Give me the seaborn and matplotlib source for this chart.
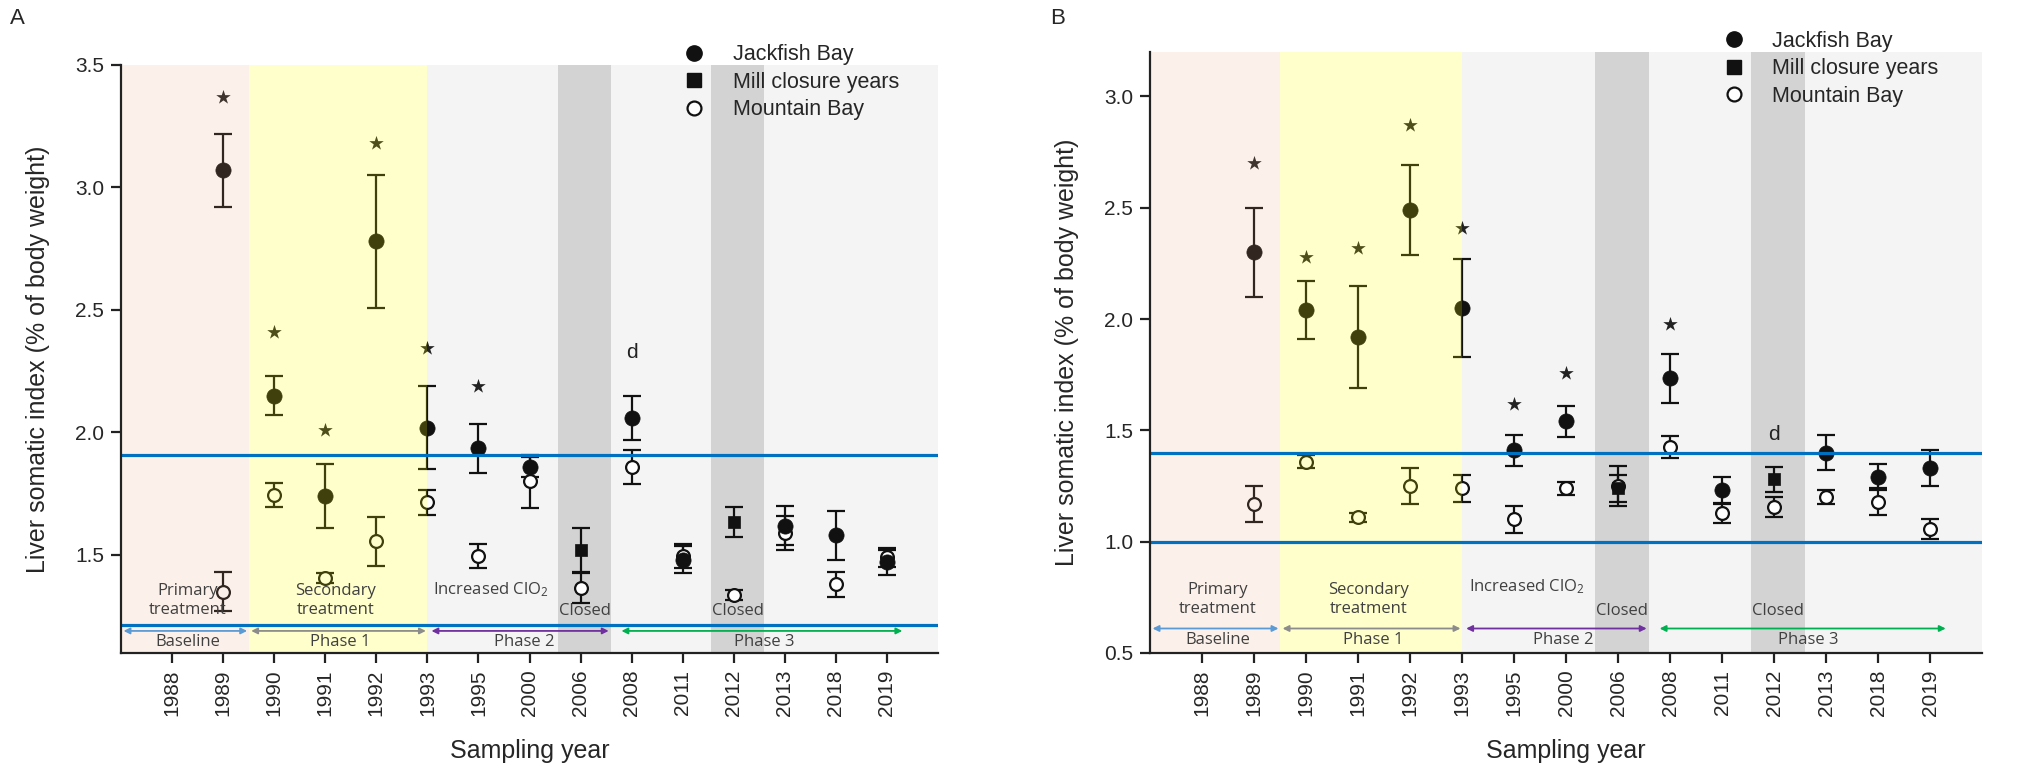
import numpy as np
import pandas as pd
import matplotlib
matplotlib.use("Agg")
import matplotlib.pyplot as plt
from matplotlib.lines import Line2D
import seaborn as sns

sns.set_style("ticks")
plt.rcParams["font.family"] = ["Liberation Sans", "DejaVu Sans"]
plt.rcParams["mathtext.default"] = "regular"

nan = np.nan
years = ["1988", "1989", "1990", "1991", "1992", "1993", "1995", "2000",
         "2006", "2008", "2011", "2012", "2013", "2018", "2019"]

# Panel A
a_jackfish = [nan, 3.07, 2.15, 1.74, 2.78, 2.02, 1.935, 1.86, nan, 2.06, 1.48, nan, 1.62, 1.58, 1.47]
a_jackfish_err = [nan, 0.15, 0.08, 0.13, 0.27, 0.17, 0.10, 0.04, nan, 0.09, 0.055, nan, 0.08, 0.10, 0.05]
a_mill = [nan, nan, nan, nan, nan, nan, nan, nan, 1.52, nan, nan, 1.635, nan, nan, nan]
a_mill_err = [nan, nan, nan, nan, nan, nan, nan, nan, 0.09, nan, nan, 0.06, nan, nan, nan]
a_mountain = [nan, 1.35, 1.745, 1.405, 1.555, 1.715, 1.495, 1.80, 1.365, 1.86, 1.495, 1.335, 1.59, 1.38, 1.49]
a_mountain_err = [nan, 0.08, 0.05, 0.02, 0.10, 0.05, 0.05, 0.11, 0.06, 0.07, 0.05, 0.02, 0.07, 0.05, 0.04]
a_star_years = ["1989", "1990", "1991", "1992", "1993", "1995"]
a_star_y = [3.37, 2.41, 2.01, 3.18, 2.345, 2.19]
a_d_year, a_d_y = "2008", 2.325
a_ref_lines = [1.91, 1.215]

# Panel B
b_jackfish = [nan, 2.30, 2.04, 1.92, 2.49, 2.05, 1.41, 1.54, nan, 1.735, 1.23, nan, 1.40, 1.29, 1.33]
b_jackfish_err = [nan, 0.20, 0.13, 0.23, 0.20, 0.22, 0.07, 0.07, nan, 0.11, 0.06, nan, 0.08, 0.06, 0.08]
b_mill = [nan, nan, nan, nan, nan, nan, nan, nan, 1.24, nan, nan, 1.28, nan, nan, nan]
b_mill_err = [nan, nan, nan, nan, nan, nan, nan, nan, 0.06, nan, nan, 0.055, nan, nan, nan]
b_mountain = [nan, 1.17, 1.36, 1.11, 1.25, 1.24, 1.10, 1.24, 1.25, 1.425, 1.13, 1.155, 1.20, 1.18, 1.055]
b_mountain_err = [nan, 0.08, 0.03, 0.02, 0.08, 0.06, 0.06, 0.03, 0.09, 0.05, 0.045, 0.045, 0.03, 0.06, 0.045]
b_star_years = ["1989", "1990", "1991", "1992", "1993", "1995", "2000", "2008"]
b_star_y = [2.70, 2.28, 2.32, 2.87, 2.41, 1.62, 1.76, 1.98]
b_d_year, b_d_y = "2012", 1.48
b_ref_lines = [1.40, 1.00]

phase_names = ["Baseline", "Phase 1", "Phase 2", "Phase 3"]
phase_colors = ["#5B9BD5", "#8C8C8C", "#7030A0", "#00B050"]
ink = "#111111"
note_font = ["Open Sans", "DejaVu Sans"]


def draw_panel(ax, jb, jb_err, mill, mill_err, mb, mb_err, star_years, star_y,
               d_year, d_y, ref_lines, ylim, yticks, note_y, arrow_y, phase_y, phase_x):
    pos = np.arange(len(years))
    df = pd.DataFrame({"pos": pos, "jb": jb, "jb_err": jb_err, "mill": mill,
                       "mill_err": mill_err, "mb": mb, "mb_err": mb_err})

    # grey periods sit behind the points
    ax.axvspan(5, 15, color="#f4f4f4", lw=0, zorder=0)
    for y in ["2006", "2012"]:
        i = years.index(y)
        ax.axvspan(i - 0.45, i + 0.6, color="#d3d3d3", lw=0, zorder=0.5)

    for col in ["mb", "jb", "mill"]:
        ax.errorbar(df["pos"], df[col], yerr=df[col + "_err"], fmt="none",
                    ecolor=ink, elinewidth=1.6, capsize=6.5, capthick=1.6, zorder=3)

    sns.scatterplot(data=df, x="pos", y="mb", ax=ax, marker="o", s=85,
                    facecolor="white", edgecolor=ink, linewidth=1.6, zorder=4, legend=False)
    sns.scatterplot(data=df, x="pos", y="jb", ax=ax, marker="o", s=120,
                    color=ink, edgecolor=ink, linewidth=0.5, zorder=4, legend=False)
    sns.scatterplot(data=df, x="pos", y="mill", ax=ax, marker="s", s=85,
                    color=ink, edgecolor=ink, linewidth=0.5, zorder=4, legend=False)

    star_pos = [years.index(y) for y in star_years]
    ax.scatter(star_pos, star_y, marker="*", s=120, color="#222222", zorder=4, linewidths=0)
    ax.text(years.index(d_year), d_y, "d", ha="center", va="center", fontsize=15,
            color="#222222", zorder=7)

    # treatment periods are tinted over the points, like the original
    ax.axvspan(-1, 1.5, color=(0.94, 0.63, 0.47), alpha=0.15, lw=0, zorder=5)
    ax.axvspan(1.5, 5, color=(1.0, 1.0, 0.0), alpha=0.2, lw=0, zorder=5)

    for v in ref_lines:
        ax.axhline(v, color="#0070C0", lw=2.3, zorder=6)

    ax.text(0.3, note_y[0], "Primary\ntreatment", ha="center", va="center", fontsize=12,
            color="#404040", family=note_font, linespacing=1.25, zorder=7)
    ax.text(3.2, note_y[0], "Secondary\ntreatment", ha="center", va="center", fontsize=12,
            color="#404040", family=note_font, linespacing=1.25, zorder=7)
    ax.text(6.25, note_y[1], "Increased ClO$_2$", ha="center", va="center", fontsize=12,
            color="#404040", family=note_font, zorder=7)
    for x in [8.08, 11.08]:
        ax.text(x, note_y[2], "Closed", ha="center", va="center", fontsize=12,
                color="#404040", family=note_font, zorder=7)

    arrow_spans = [(-0.95, 1.47), (1.55, 4.97), (5.08, 8.55), (8.8, 14.3)]
    for (x0, x1), name, c, px in zip(arrow_spans, phase_names, phase_colors, phase_x):
        ax.annotate("", xy=(x1, arrow_y), xytext=(x0, arrow_y),
                    arrowprops=dict(arrowstyle="<|-|>", color=c, lw=1.3,
                                    mutation_scale=9, shrinkA=0, shrinkB=0), zorder=6)
        ax.text(px, phase_y, name, ha="center", va="center", fontsize=12,
                color="#404040", family=note_font, zorder=7)

    ax.set_xlim(-1, 15)
    ax.set_ylim(*ylim)
    ax.set_xticks(pos)
    ax.set_xticklabels(years, rotation=90, fontsize=15)
    ax.set_yticks(yticks)
    ax.set_yticklabels([f"{t:.1f}" for t in yticks], fontsize=15)
    ax.tick_params(direction="out", length=7, width=1.6, color="#222222", pad=5)
    for side in ["top", "right"]:
        ax.spines[side].set_visible(False)
    for side in ["left", "bottom"]:
        ax.spines[side].set_linewidth(1.6)
        ax.spines[side].set_color("#222222")
        ax.spines[side].set_zorder(8)
    ax.set_xlabel("Sampling year", fontsize=18, labelpad=16)
    ax.set_ylabel("Liver somatic index (% of body weight)", fontsize=18, labelpad=18)

    handles = [
        Line2D([], [], marker="o", ls="none", color=ink, markersize=11),
        Line2D([], [], marker="s", ls="none", color=ink, markersize=9.5),
        Line2D([], [], marker="o", ls="none", markerfacecolor="white",
               markeredgecolor=ink, markeredgewidth=1.6, markersize=10),
    ]
    leg = ax.legend(handles, ["Jackfish Bay", "Mill closure years", "Mountain Bay"],
                    loc="upper left", bbox_to_anchor=(0.691, 1.035), frameon=False,
                    fontsize=15.5, handlelength=0.8, handletextpad=1.4,
                    labelspacing=0.3, borderpad=0, borderaxespad=0)
    leg.set_zorder(9)


fig = plt.figure(figsize=(20.3, 7.78), dpi=100)
ax_a = fig.add_axes([0.0596, 0.1607, 0.4025, 0.7558])
ax_b = fig.add_axes([0.5665, 0.1607, 0.4099, 0.7725])

draw_panel(ax_a, a_jackfish, a_jackfish_err, a_mill, a_mill_err, a_mountain, a_mountain_err,
           a_star_years, a_star_y, a_d_year, a_d_y, a_ref_lines,
           ylim=(1.1, 3.5), yticks=[1.5, 2.0, 2.5, 3.0, 3.5],
           note_y=(1.314, 1.36, 1.27), arrow_y=1.19, phase_y=1.145,
           phase_x=[0.3, 3.3, 6.9, 11.6])
draw_panel(ax_b, b_jackfish, b_jackfish_err, b_mill, b_mill_err, b_mountain, b_mountain_err,
           b_star_years, b_star_y, b_d_year, b_d_y, b_ref_lines,
           ylim=(0.5, 3.2), yticks=[0.5, 1.0, 1.5, 2.0, 2.5, 3.0],
           note_y=(0.74, 0.80, 0.69), arrow_y=0.61, phase_y=0.56,
           phase_x=[0.3, 3.3, 6.95, 11.65])

fig.text(10 / 2030, 1 - 18 / 778, "A", fontsize=16, va="center", ha="left")
fig.text(1050 / 2030, 1 - 18 / 778, "B", fontsize=16, va="center", ha="left")

fig.savefig("out.png", dpi=100)
plt.close(fig)
